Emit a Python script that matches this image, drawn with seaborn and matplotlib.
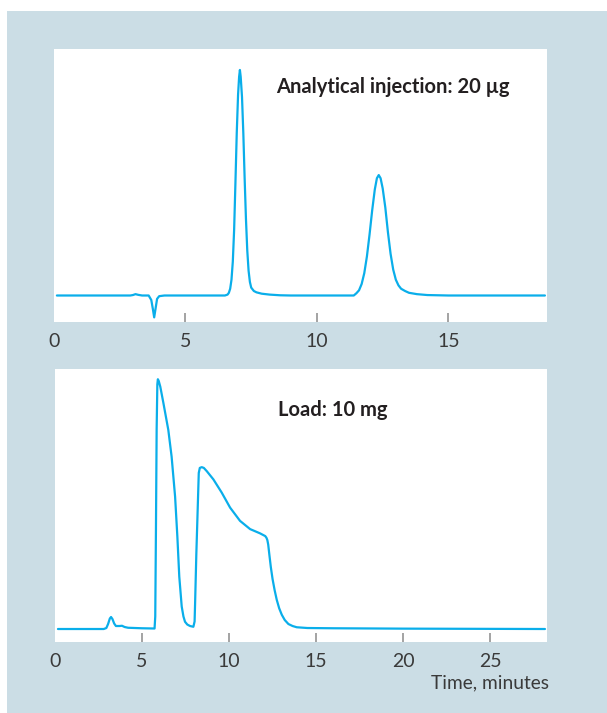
import matplotlib
matplotlib.use("Agg")
import matplotlib.pyplot as plt
from matplotlib.patches import Rectangle
import seaborn as sns
import pandas as pd

# ---- data ----
top_time = [0.11, 2.9, 3.0, 3.1, 3.2, 3.35, 3.6, 3.7, 3.76, 3.81,
            3.86, 3.92, 4.0, 4.2, 5.5, 6.5, 6.6, 6.65, 6.70, 6.75,
            6.80, 6.85, 6.90, 6.95, 7.00, 7.04, 7.07, 7.10, 7.15, 7.20,
            7.25, 7.30, 7.35, 7.40, 7.45, 7.50, 7.60, 7.70, 7.90, 8.20,
            8.60, 9.00, 11.40, 11.50, 11.60, 11.70, 11.80, 11.90, 12.00, 12.10,
            12.20, 12.28, 12.35, 12.42, 12.50, 12.60, 12.70, 12.80, 12.90, 13.00,
            13.10, 13.20, 13.35, 13.50, 13.80, 14.20, 15.00, 18.67]
top_signal = [0, 0, 0.2, 0.6, 0.3, 0, 0, -2, -6, -9.7,
              -6, -1.5, -0.3, 0, 0, 0, 0.4, 1.2, 3, 7,
              15, 29, 50, 72, 89, 97, 100, 97, 88, 72,
              52, 34, 20, 11, 6, 3.5, 2, 1.4, 0.8, 0.4,
              0.1, 0, 0, 1.0, 2.3, 5.1, 9.9, 17.3, 27, 37.7,
              47, 52, 53.4, 52, 47.5, 39, 28, 18.5, 11.5, 7,
              4.5, 3, 2, 1.2, 0.6, 0.2, 0, 0]

bot_time = [0.17, 2.80, 2.95, 3.05, 3.15, 3.22, 3.30, 3.40, 3.50, 3.70,
            3.85, 4.00, 4.20, 5.00, 5.72, 5.76, 5.80, 5.84, 5.88, 5.91,
            5.96, 6.05, 6.23, 6.51, 6.70, 6.90, 7.03, 7.14, 7.28, 7.38,
            7.47, 7.60, 7.76, 7.95, 8.02, 8.05, 8.12, 8.18, 8.26, 8.32,
            8.43, 8.55, 8.72, 9.10, 9.58, 10.06, 10.63, 11.21, 11.78, 12.08,
            12.15, 12.20, 12.25, 12.32, 12.40, 12.50, 12.62, 12.74, 12.88, 13.03,
            13.20, 13.41, 13.65, 13.89, 14.50, 16.00, 20.00, 28.15]
bot_signal = [0, 0, 0.4, 2, 4.2, 4.8, 4, 2.2, 1.2, 1.2,
              1.3, 0.8, 0.5, 0.3, 0.2, 5, 40, 80, 98, 100,
              99.3, 97, 90.4, 79.7, 69, 53, 37, 21, 9, 5,
              2.9, 1.8, 1.2, 0.9, 3, 10.5, 30, 43.8, 62.5, 64.5,
              64.8, 64.5, 63.2, 59.9, 54.6, 48.6, 43.3, 40, 38.3, 37.2,
              36.5, 35.6, 33.8, 29.5, 24.8, 20.0, 15.5, 11.7, 8.3, 5.7,
              3.6, 2.0, 1.2, 0.7, 0.4, 0.3, 0.15, 0]

top_ticks = [0, 5, 10, 15]
bot_ticks = [0, 5, 10, 15, 20, 25]
top_label = "Analytical injection: 20 \u00b5g"
bot_label = "Load: 10 mg"
x_label = "Time, minutes"

# ---- style ----
sns.set_theme(style="white")
plt.rcParams["font.family"] = ["Lato", "DejaVu Sans"]

LINE = "#0aaeea"
BG = "#cbdde5"
TXT = "#231f20"
TICKTXT = "#3a3a3a"

fig = plt.figure(figsize=(6.07, 7.13), dpi=100)
fig.patch.set_facecolor("white")
fig.patches.append(Rectangle((7 / 607, -0.01), 1.1, (713 - 11) / 713 + 0.01,
                             transform=fig.transFigure, facecolor=BG,
                             edgecolor="none", zorder=-10))

ax1 = fig.add_axes([54 / 607, (713 - 322) / 713, 492.5 / 607, 273 / 713])
ax2 = fig.add_axes([55 / 607, (713 - 642) / 713, 491.7 / 607, 273 / 713])

df_top = pd.DataFrame({"time": top_time, "signal": top_signal})
df_bot = pd.DataFrame({"time": bot_time, "signal": bot_signal})

sns.lineplot(data=df_top, x="time", y="signal", ax=ax1, color=LINE,
             linewidth=1.6, estimator=None, sort=False)
sns.lineplot(data=df_bot, x="time", y="signal", ax=ax2, color=LINE,
             linewidth=1.6, estimator=None, sort=False)

ax1.set_xlim(0, 18.73)
ax1.set_ylim(-11.75, 109.3)
ax2.set_xlim(0, 28.25)
ax2.set_ylim(-5.2, 104.1)

for ax, ticks in ((ax1, top_ticks), (ax2, bot_ticks)):
    ax.set_facecolor("white")
    for s in ax.spines.values():
        s.set_visible(False)
    ax.set_xlabel("")
    ax.set_ylabel("")
    ax.set_yticks([])
    ax.set_xticks(ticks)
    ax.set_xticklabels([str(t) for t in ticks])
    ax.tick_params(axis="x", direction="in", length=6.5, width=1.1,
                   color="#8a8a8a", pad=8, labelsize=14, labelcolor=TICKTXT,
                   bottom=True)
    ax.xaxis.get_major_ticks()[0].tick1line.set_visible(False)

ax1.text(0.451, 0.861, top_label, transform=ax1.transAxes, fontsize=14.5,
         fontweight="bold", color=TXT, ha="left", va="center")
ax2.text(0.4535, 0.85, bot_label, transform=ax2.transAxes, fontsize=14.5,
         fontweight="bold", color=TXT, ha="left", va="center")

fig.text(549 / 607, (713 - 683) / 713, x_label, fontsize=13.8, color=TICKTXT,
         ha="right", va="center")

fig.savefig("out.png", dpi=100, facecolor=fig.get_facecolor())
